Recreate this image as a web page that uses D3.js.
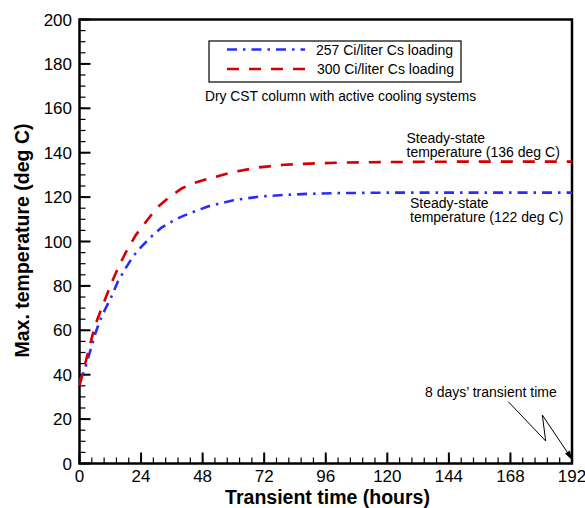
<!DOCTYPE html>
<html><head><meta charset="utf-8">
<script src="https://cdn.jsdelivr.net/npm/d3@7"></script>
<style>body{margin:0;background:#fff}svg{display:block}text{font-family:"Liberation Sans",Arial,sans-serif}</style>
</head><body><svg id="c" width="585" height="508"></svg>
<script>
const hours257 = [0,2,4,6,8,10,12,15,18,21,24,28,32,36,40,45,50,60,70,80,90,100,120,150,192];
const temp257  = [37,42,50,58,64.5,69.5,74,82,88,93.5,97.5,102.2,106.3,109,111.3,113.6,115.8,118.6,120.2,121,121.5,121.8,122,122,122];
const hours300 = [0,2,4,6,8,10,12,15,18,22,26,30,35,40,45,50,60,70,80,90,100,120,150,192];
const temp300  = [35,44,53,62,68,74,80,88,95,103,109,115,120,124,126.5,128.2,131.3,133.4,134.6,135.1,135.5,135.8,136,136];
const xTicks = [0,24,48,72,96,120,144,168,192];
const yTicks = [0,20,40,60,80,100,120,140,160,180,200];
const seriesNames = ["257 Ci/liter Cs loading","300 Ci/liter Cs loading"];

const svg = d3.select("#c");
const L=79.5, R=572, T=19.5, B=463.5;
const x = d3.scaleLinear().domain([0,192]).range([L,R]);
const y = d3.scaleLinear().domain([0,200]).range([B,T]);

// minor ticks
const g = svg.append("g");
const xMinor = d3.range(0,192.01,4.8);
g.selectAll(".xm").data(xMinor).join("line")
  .attr("x1",d=>x(d)).attr("x2",d=>x(d)).attr("y1",B).attr("y2",B-6)
  .attr("stroke","#000").attr("stroke-width",1.2);
g.selectAll(".xM").data(xTicks).join("line")
  .attr("x1",d=>x(d)).attr("x2",d=>x(d)).attr("y1",B).attr("y2",B-11)
  .attr("stroke","#000").attr("stroke-width",2);
const yMinor = d3.range(0,200.01,5);
g.selectAll(".ym").data(yMinor).join("line")
  .attr("x1",L).attr("x2",L+6).attr("y1",d=>y(d)).attr("y2",d=>y(d))
  .attr("stroke","#000").attr("stroke-width",1.2);
g.selectAll(".yM").data(yTicks).join("line")
  .attr("x1",L).attr("x2",L+11).attr("y1",d=>y(d)).attr("y2",d=>y(d))
  .attr("stroke","#000").attr("stroke-width",2);

// tick labels
g.selectAll(".xl").data(xTicks).join("text")
  .attr("x",d=>x(d)).attr("y",B+18.5).attr("text-anchor","middle")
  .attr("font-size",17).text(d=>d);
g.selectAll(".yl").data(yTicks).join("text")
  .attr("x",L-7.5).attr("y",d=>y(d)+6).attr("text-anchor","end")
  .attr("font-size",17).text(d=>d);

// frame
svg.append("rect").attr("x",L).attr("y",T).attr("width",R-L).attr("height",B-T)
  .attr("fill","none").attr("stroke","#000").attr("stroke-width",2.5);

// lines
const line = d3.line().x(d=>x(d[0])).y(d=>y(d[1]));
svg.append("path").datum(hours257.map((h,i)=>[h,temp257[i]]))
  .attr("d",line).attr("fill","none").attr("stroke","#2a2cff").attr("stroke-width",2.6)
  .attr("stroke-dasharray","10,6,2.5,6");
svg.append("path").datum(hours300.map((h,i)=>[h,temp300[i]]))
  .attr("d",line).attr("fill","none").attr("stroke","#d40000").attr("stroke-width",2.6)
  .attr("stroke-dasharray","12,10");

// legend
svg.append("rect").attr("x",209).attr("y",41).attr("width",252).attr("height",41)
  .attr("fill","#fff").attr("stroke","#000").attr("stroke-width",1.2);
svg.append("line").attr("x1",227).attr("x2",305).attr("y1",49.5).attr("y2",49.5)
  .attr("stroke","#2a2cff").attr("stroke-width",2.6).attr("stroke-dasharray","10,6,2.5,6");
svg.append("line").attr("x1",227).attr("x2",305).attr("y1",69).attr("y2",69)
  .attr("stroke","#d40000").attr("stroke-width",2.6).attr("stroke-dasharray","12,10");
svg.append("text").attr("x",316).attr("y",54.5).attr("font-size",14).text(seriesNames[0]);
svg.append("text").attr("x",317).attr("y",74).attr("font-size",14).text(seriesNames[1]);

svg.append("text").attr("x",205).attr("y",100.5).attr("font-size",13.8)
  .text("Dry CST column with active cooling systems");

function multi(xp, yp, lines){
  const t = svg.append("text").attr("font-size",14);
  lines.forEach((s,i)=>t.append("tspan").attr("x",xp).attr("y",yp+i*14.5).text(s));
}
multi(406.5,142.5,["Steady-state","temperature (136 deg C)"]);
multi(410,207.5,["Steady-state","temperature (122 deg C)"]);
svg.append("text").attr("x",425).attr("y",397).attr("font-size",14).text("8 days\u2019 transient time");

// arrow
svg.append("path").attr("d","M508.3,401.7 L545.7,441 L542.3,415 L568.5,454")
  .attr("fill","none").attr("stroke","#000").attr("stroke-width",1);
svg.append("path").attr("d","M572,460 L565,453.5 L570,450.5 Z").attr("fill","#000");

// axis titles
svg.append("text").attr("x",327.5).attr("y",504).attr("text-anchor","middle")
  .attr("font-size",19.5).attr("font-weight","bold").text("Transient time (hours)");
svg.append("text").attr("transform","translate(29,240.5) rotate(-90)").attr("text-anchor","middle")
  .attr("font-size",19.5).attr("font-weight","bold").text("Max. temperature (deg C)");
</script></body></html>
